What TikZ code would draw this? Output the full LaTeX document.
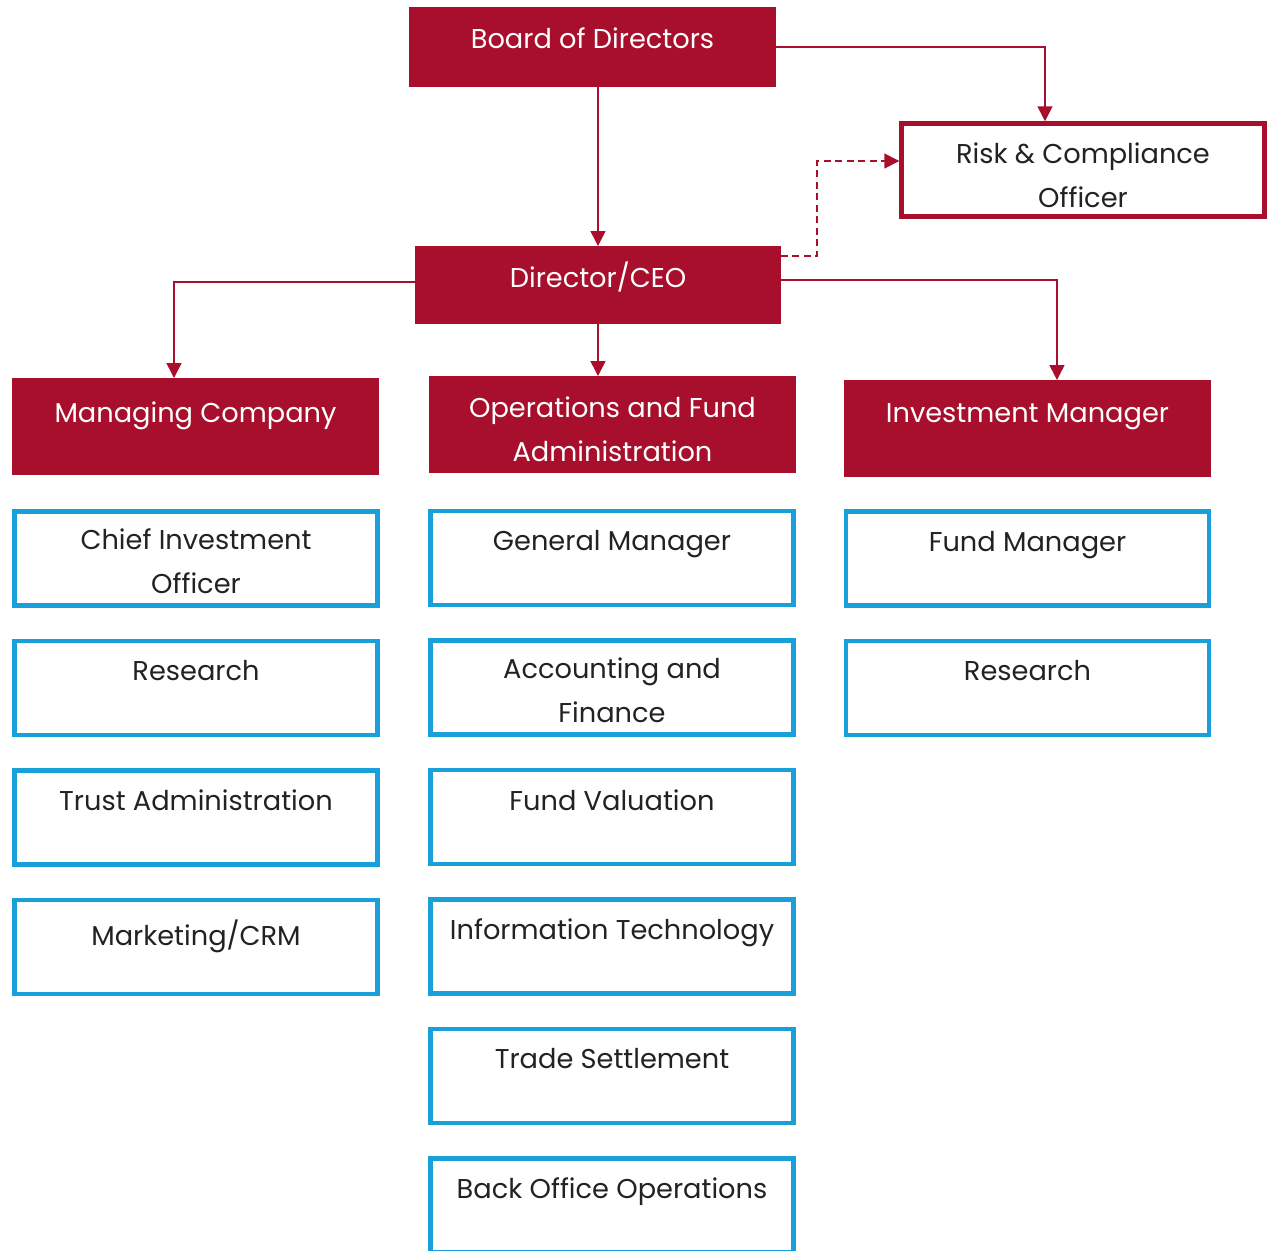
\documentclass[tikz,border=0pt]{standalone}
\usepackage{fontspec}
\setmainfont{Poppins}
\usetikzlibrary{arrows.meta, positioning}
\definecolor{crimson}{RGB}{168,15,45}
\definecolor{skyline}{RGB}{26,160,216}
\definecolor{ink}{RGB}{34,34,34}
\tikzstyle{block} = [rectangle, minimum width=7.26cm, minimum height=1.88cm, inner sep=0pt]
\tikzstyle{lead} = [block, fill=crimson, outer sep=0pt, minimum width=7.34cm, minimum height=1.6cm]
\tikzstyle{dept} = [lead, minimum height=1.94cm]
\tikzstyle{role} = [block, draw=skyline, line width=0.09cm]
\tikzstyle{officer} = [block, draw=crimson, line width=0.09cm, minimum height=1.86cm]
\tikzstyle{caption} = [anchor=north, yshift=-4.3mm, align=center, inner sep=0pt, font=\fontsize{15.5}{25}\selectfont, text=ink]
\tikzstyle{leadcaption} = [caption, yshift=0.2mm, text=white]
\tikzstyle{link} = [-{Triangle[width=3mm, length=3mm]}, line width=0.03cm, draw=crimson]
\tikzstyle{dashlink} = [link, dash pattern=on 1.4mm off 0.9mm]

\begin{document}
\begin{tikzpicture}[x=0.02cm, y=-0.02cm, node distance=6.2mm]
    \useasboundingbox (0,0) rectangle (1269,1251);

    % Board and CEO.
    \node (board) [lead, label={[leadcaption]north:Board of Directors}] at (592.5,47) {};
    \node (risk) [officer, label={[caption]north:Risk \& Compliance\\Officer}] at (1083,170) {};
    \node (ceo) [lead, minimum width=7.32cm, minimum height=1.56cm, label={[leadcaption, yshift=1mm]north:Director/CEO}] at (598,285) {};

    % Departments.
    \node (mgmt) [dept, label={[leadcaption, yshift=-0.6mm]north:Managing Company}] at (195.5,426.5) {};
    \node (ops) [dept, label={[leadcaption]north:Operations and Fund\\Administration}] at (612.5,424.5) {};
    \node (invest) [dept, label={[leadcaption, yshift=-0.6mm]north:Investment Manager}] at (1027.5,428.5) {};

    % Managing company roles.
    \node (cio) [role, label={[caption, yshift=0.4mm]north:Chief Investment\\Officer}] at (196,558.5) {};
    \node (research1) [role, below=of cio, label={[caption]north:Research}] {};
    \node (trust) [role, below=of research1, label={[caption]north:Trust Administration}] {};
    \node (crm) [role, below=of trust, label={[caption]north:Marketing/CRM}] {};

    % Operations roles.
    \node (gm) [role, label={[caption]north:General Manager}] at (612,558) {};
    \node (acct) [role, below=of gm, label={[caption, yshift=0.4mm]north:Accounting and\\Finance}] {};
    \node (valuation) [role, below=of acct, label={[caption]north:Fund Valuation}] {};
    \node (it) [role, below=of valuation, label={[caption]north:Information Technology}] {};
    \node (settle) [role, below=of it, label={[caption]north:Trade Settlement}] {};
    \node (backoffice) [role, below=of settle, label={[caption]north:Back Office Operations}] {};

    % Investment roles.
    \node (fm) [role, label={[caption]north:Fund Manager}] at (1027.5,558.5) {};
    \node (research2) [role, below=of fm, label={[caption]north:Research}] {};

    % Arrows.
    \draw [link] (board.south -| ceo.north) -- (ceo.north);
    \draw [link] (board.east) -| ([xshift=-7.6mm]risk.north);
    \draw [dashlink] ([yshift=5.8mm]ceo.east) -- ++(36,0) |- ([yshift=1.8mm]risk.west);
    \draw [link] ([yshift=0.6mm]ceo.west) -| ([xshift=-4.3mm]mgmt.north);
    \draw [link] (ceo.south) -- (ceo.south |- ops.north);
    \draw [link] ([yshift=1mm]ceo.east) -| ([xshift=5.9mm]invest.north);
\end{tikzpicture}
\end{document}
